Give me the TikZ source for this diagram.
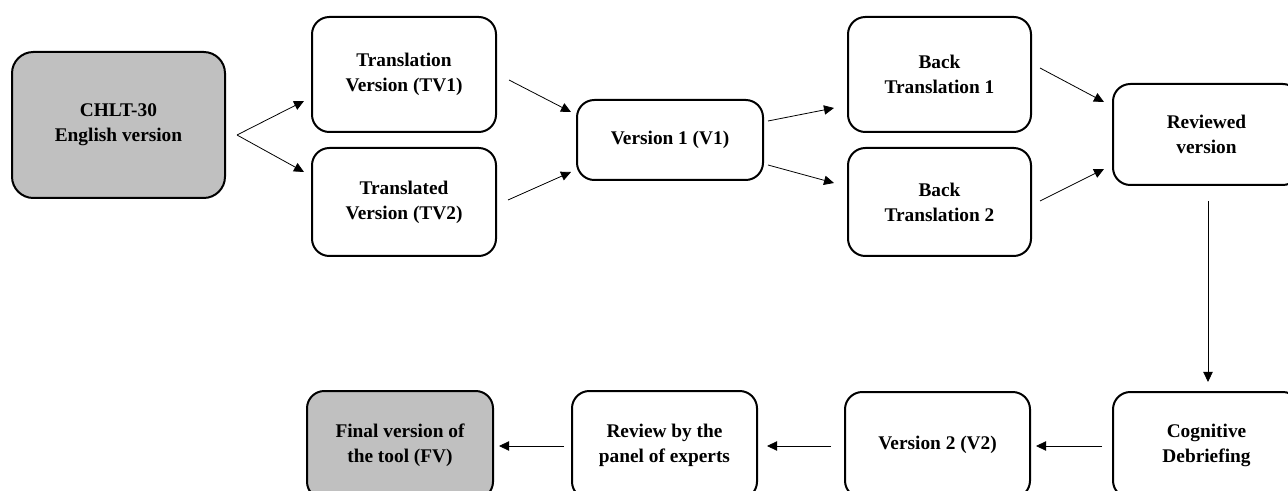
\documentclass[tikz,border=0pt]{standalone}
\usepackage{fontspec}
\setmainfont{Liberation Serif}
\usetikzlibrary{arrows.meta,calc}
\definecolor{boxgray}{RGB}{192,192,192}
\begin{document}
\begin{tikzpicture}[x=0.75pt,y=-0.75pt,
  box/.style={draw,line width=1.5pt,rounded corners=13pt,align=center,
    font=\fontsize{14.5}{18.75}\selectfont\bfseries,inner sep=0pt},
  greybox/.style={box,fill=boxgray},
  arr/.style={-{Triangle[length=7.5pt,width=7pt]},line width=0.6pt}]
\useasboundingbox (0,0) rectangle (1288,491);
\clip (0,0) rectangle (1288,491);
% top row
\node[greybox,rounded corners=16pt,minimum width=159.75pt,minimum height=109.5pt] (chlt) at (118.5,125) {CHLT-30\\English version};
\node[box,minimum width=138pt,minimum height=86.25pt] (tv1) at (404,74.5) {Translation\\Version (TV1)};
\node[box,minimum width=138pt,minimum height=81pt] (tv2) at (404,202) {Translated\\Version (TV2)};
\node[box,minimum width=139.5pt,minimum height=60pt] (v1) at (670,140) {Version 1 (V1)};
\node[box,minimum width=137.25pt,minimum height=86.25pt] (bt1) at (939.5,74.5) {Back\\Translation 1};
\node[box,minimum width=137.25pt,minimum height=81pt] (bt2) at (939.5,202) {Back\\Translation 2};
\node[box,minimum width=140.25pt,minimum height=75.75pt] (rev) at (1206.5,134.5) {Reviewed\\version};
% bottom row
\node[box,minimum width=140.25pt,minimum height=79.5pt] (cog) at (1206.5,445) {Cognitive\\Debriefing};
\node[box,minimum width=138.75pt,minimum height=79.5pt] (v2) at (937.5,445) {Version 2 (V2)};
\node[box,minimum width=138.75pt,minimum height=81pt] (panel) at (664.5,445) {Review by the\\panel of experts};
\node[greybox,minimum width=139.5pt,minimum height=81pt] (fv) at (400,445) {Final version of\\the tool (FV)};
% connectors
\draw[arr] ($(chlt.east)+(11,10)$) -- ($(tv1.west)+(-7,26.5)$);
\draw[arr] ($(chlt.east)+(11,10)$) -- ($(tv2.west)+(-7,-30)$);
\draw[arr] ($(tv1.east)+(12,5.5)$) -- ($(v1.west)+(-5,-28)$);
\draw[arr] ($(tv2.east)+(11,-2)$) -- ($(v1.west)+(-5,32)$);
\draw[arr] ($(v1.east)+(4,-19)$) -- ($(bt1.west)+(-13,33.5)$);
\draw[arr] ($(v1.east)+(4,25)$) -- ($(bt2.west)+(-13,-19)$);
\draw[arr] ($(bt1.east)+(8,-6.5)$) -- ($(rev.west)+(-8,-32.5)$);
\draw[arr] ($(bt2.east)+(8,-1)$) -- ($(rev.west)+(-8,34.5)$);
\draw[arr] ($(rev.south)+(1.5,15)$) -- ($(cog.north)+(1.5,-9)$);
\draw[arr] ($(cog.west)+(-10,1)$) -- ($(v2.east)+(5,1)$);
\draw[arr] ($(v2.west)+(-13,1)$) -- ($(panel.east)+(9,1)$);
\draw[arr] ($(panel.west)+(-7,1)$) -- ($(fv.east)+(5,1)$);
\end{tikzpicture}
\end{document}
